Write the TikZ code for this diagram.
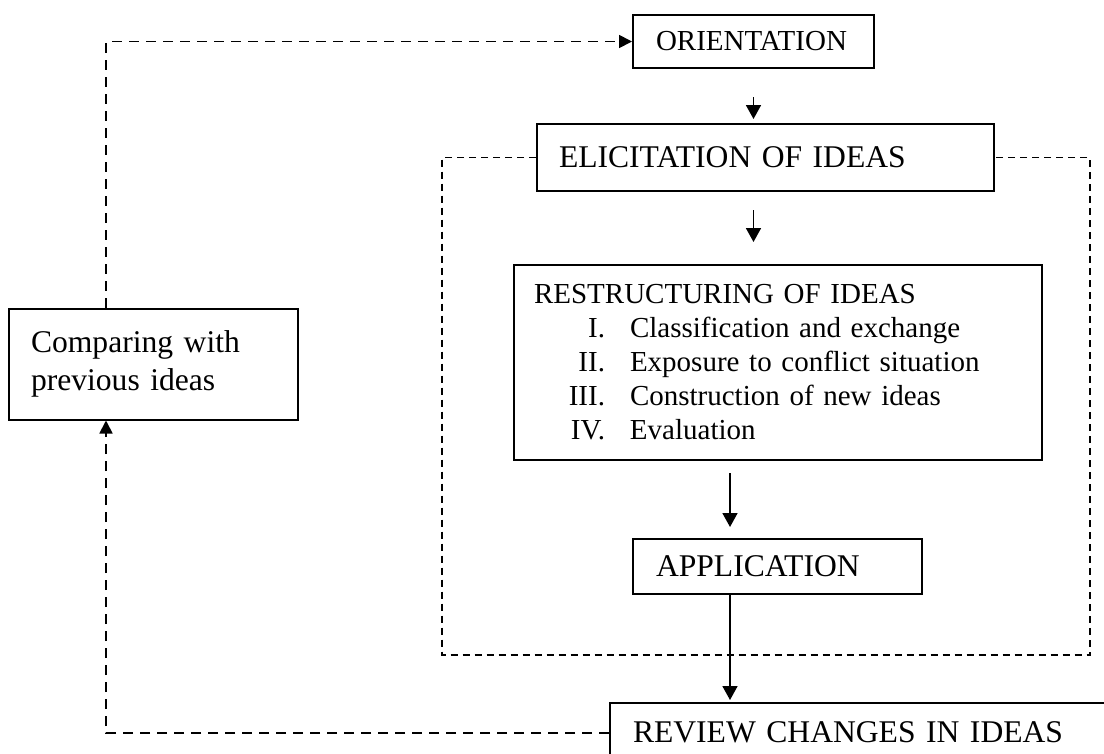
\documentclass[tikz,border=0pt]{standalone}
\usepackage{fontspec}
\setmainfont{Liberation Serif}
\usetikzlibrary{arrows.meta}
\begin{document}
\begin{tikzpicture}[x=1pt,y=-1pt,
  box/.style={draw,line width=2pt,inner ysep=0pt,align=left,anchor=center},
  big/.style={font=\fontsize{31.6}{38}\selectfont},
  small/.style={font=\fontsize{29}{34}\selectfont},
  flow/.style={line width=1.7pt,-{Triangle[length=14pt,width=15pt]}},
  loop/.style={line width=1.8pt,dash pattern=on 10pt off 7pt,-{Triangle[length=13pt,width=13pt]}},
  frame/.style={line width=1.3pt,dash pattern=on 7pt off 5pt}]
\useasboundingbox (0,0) rectangle (1104,753);
\clip (0,0) rectangle (1104,753);

% boxes of the cycle
\node[box,small,minimum height=53pt,text width=195pt,inner xsep=23pt] (orient) at (753.5,41.5) {ORIENTATION};
\node[box,big,minimum height=67pt,text width=413pt,inner xsep=22pt] (elic) at (765.5,157.5) {ELICITATION OF IDEAS};
\node[box,small,minimum height=195pt,text width=488pt,inner xsep=20pt] (restr) at (778,362.5)
  {RESTRUCTURING OF IDEAS\\
   \makebox[71pt][r]{I.}\hspace{25pt}Classification and exchange\\
   \makebox[71pt][r]{II.}\hspace{25pt}Exposure to conflict situation\\
   \makebox[71pt][r]{III.}\hspace{25pt}Construction of new ideas\\
   \makebox[71pt][r]{IV.}\hspace{25pt}Evaluation};
\node[box,big,minimum height=55pt,text width=243pt,inner xsep=23pt] (app) at (777.5,566.5) {APPLICATION};
\node[box,big,anchor=base west,text width=500pt,inner xsep=23pt,text height=39pt,text depth=40pt] (rev) at (609,742) {REVIEW CHANGES IN IDEAS};
\node[box,big,minimum height=111pt,text width=245pt,inner xsep=22pt] (comp) at (153.5,364) {Comparing with\\previous ideas};

% helper positions
\coordinate (ax) at (730,0);
\coordinate (lx) at (106,0);
\coordinate (revin) at ([yshift=-31pt]rev.north west);
\coordinate (fr-nw) at (442,157.5);
\coordinate (fr-sw) at (442,655);
\coordinate (fr-se) at (1090,655);
\coordinate (fr-ne) at (1090,157.5);

% dashed frame around the inner stages
\draw[frame] (elic.west) -- (fr-nw) -- (fr-sw) -- (fr-se) -- (fr-ne) -- (elic.east);

% solid flow arrows
\draw[flow,shorten <=28pt,shorten >=4pt] (orient.south) -- (orient.south |- elic.north);
\draw[flow,shorten <=18pt,shorten >=22pt] (elic.south -| orient.south) -- (restr.north -| orient.south);
\draw[flow,shorten <=12pt,shorten >=11pt] (restr.south -| ax) -- (app.north -| ax);
\draw[flow,shorten >=2pt] (app.south -| ax) -- (rev.north -| ax);

% dashed feedback loop
\draw[loop] (revin) -- (lx |- revin) -- (comp.south -| lx);
\draw[loop] (comp.north -| lx) -- (lx |- orient.west) -- (orient.west);
\end{tikzpicture}
\end{document}
